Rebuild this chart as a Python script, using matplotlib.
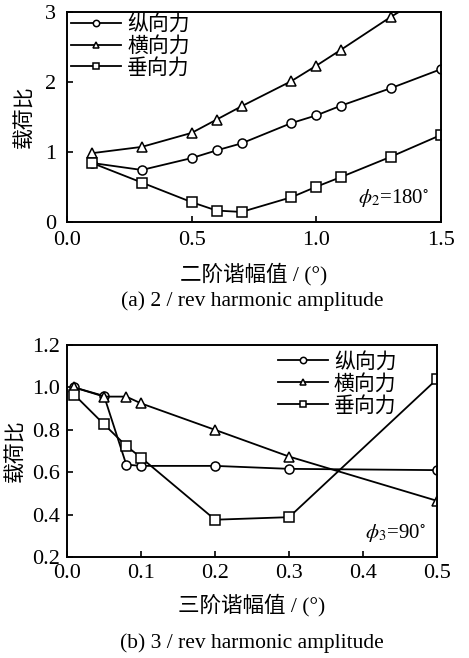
import matplotlib
matplotlib.use("Agg")
from matplotlib import pyplot as plt

plt.rcParams['font.family'] = ['Liberation Serif', 'Noto Sans CJK SC']
plt.rcParams['mathtext.fontset'] = 'stix'

series_names = ['纵向力', '横向力', '垂向力']
markers = ['o', '^', 's']

# (a) 2/rev harmonic amplitude
amp2 = [0.1, 0.3, 0.5, 0.6, 0.7, 0.9, 1.0, 1.1, 1.3, 1.5]
long2 = [0.84, 0.74, 0.91, 1.02, 1.12, 1.41, 1.52, 1.66, 1.91, 2.18]
lat2 = [0.98, 1.07, 1.27, 1.46, 1.65, 2.01, 2.23, 2.46, 2.93, 3.36]
vert2 = [0.84, 0.56, 0.28, 0.16, 0.14, 0.35, 0.50, 0.64, 0.93, 1.24]

# (b) 3/rev harmonic amplitude
amp3 = [0.01, 0.05, 0.08, 0.1, 0.2, 0.3, 0.5]
long3 = [1.00, 0.96, 0.636, 0.63, 0.63, 0.616, 0.61]
lat3 = [1.00, 0.957, 0.957, 0.925, 0.80, 0.674, 0.465]
vert3 = [0.965, 0.826, 0.724, 0.669, 0.376, 0.388, 1.04]


def style_axes(ax, xpad=5, ypad=5):
    for s in ax.spines.values():
        s.set_linewidth(1.4)
    ax.tick_params(direction='in', length=4, width=1.2, labelsize=16,
                   top=False, right=False)
    ax.tick_params(axis='x', pad=xpad)
    ax.tick_params(axis='y', pad=ypad)


def draw(ax, x, ys):
    for y, m, name in zip(ys, markers, series_names):
        ax.plot(x, y, color='black', lw=1.3, marker=m, markersize=6.5,
                markerfacecolor='white', markeredgecolor='black',
                markeredgewidth=1.1, label=name, clip_on=True)


fig = plt.figure(figsize=(4.69, 6.58), dpi=100)

ax1 = fig.add_axes([0.143, 0.663, 0.797, 0.319])
draw(ax1, amp2, [long2, lat2, vert2])
ax1.set_xlim(0, 1.5)
ax1.set_ylim(0, 3)
ax1.set_xticks([0, 0.5, 1.0, 1.5])
ax1.set_xticklabels(['0.0', '0.5', '1.0', '1.5'])
ax1.set_yticks([0, 1, 2, 3])
style_axes(ax1, xpad=7, ypad=8)
ax1.set_ylabel('载荷比', fontsize=15, labelpad=7)
ax1.set_xlabel('二阶谐幅值 / (°)', fontsize=15.5, labelpad=9)
ax1.legend(loc='upper left', bbox_to_anchor=(0.01, 0.985), frameon=False,
           fontsize=15, handlelength=2.4, markerscale=0.7, borderaxespad=0,
           handletextpad=0.3, labelspacing=0.1, borderpad=0)
ax1.text(0.97, 0.06, r'$\phi_2$=180$^{\circ}$', transform=ax1.transAxes,
         ha='right', va='bottom', fontsize=15)
fig.text(0.537, 0.543, '(a) 2 / rev harmonic amplitude', ha='center',
         va='center', fontsize=15.5)

ax2 = fig.add_axes([0.143, 0.1535, 0.789, 0.322])
draw(ax2, amp3, [long3, lat3, vert3])
ax2.set_xlim(0, 0.5)
ax2.set_ylim(0.2, 1.2)
ax2.set_xticks([0, 0.1, 0.2, 0.3, 0.4, 0.5])
ax2.set_xticklabels(['0.0', '0.1', '0.2', '0.3', '0.4', '0.5'])
ax2.set_yticks([0.2, 0.4, 0.6, 0.8, 1.0, 1.2])
ax2.set_yticklabels(['0.2', '0.4', '0.6', '0.8', '1.0', '1.2'])
style_axes(ax2, xpad=5, ypad=5)
ax2.set_ylabel('载荷比', fontsize=15, labelpad=4)
ax2.set_xlabel('三阶谐幅值 / (°)', fontsize=15.5, labelpad=8)
ax2.legend(loc='upper right', bbox_to_anchor=(0.89, 0.965), frameon=False,
           fontsize=15, handlelength=2.4, markerscale=0.7, borderaxespad=0,
           handletextpad=0.3, labelspacing=0.1, borderpad=0)
ax2.text(0.97, 0.06, r'$\phi_3$=90$^{\circ}$', transform=ax2.transAxes,
         ha='right', va='bottom', fontsize=15)
fig.text(0.537, 0.022, '(b) 3 / rev harmonic amplitude', ha='center',
         va='center', fontsize=15.5)

fig.savefig('out.png', dpi=100)
